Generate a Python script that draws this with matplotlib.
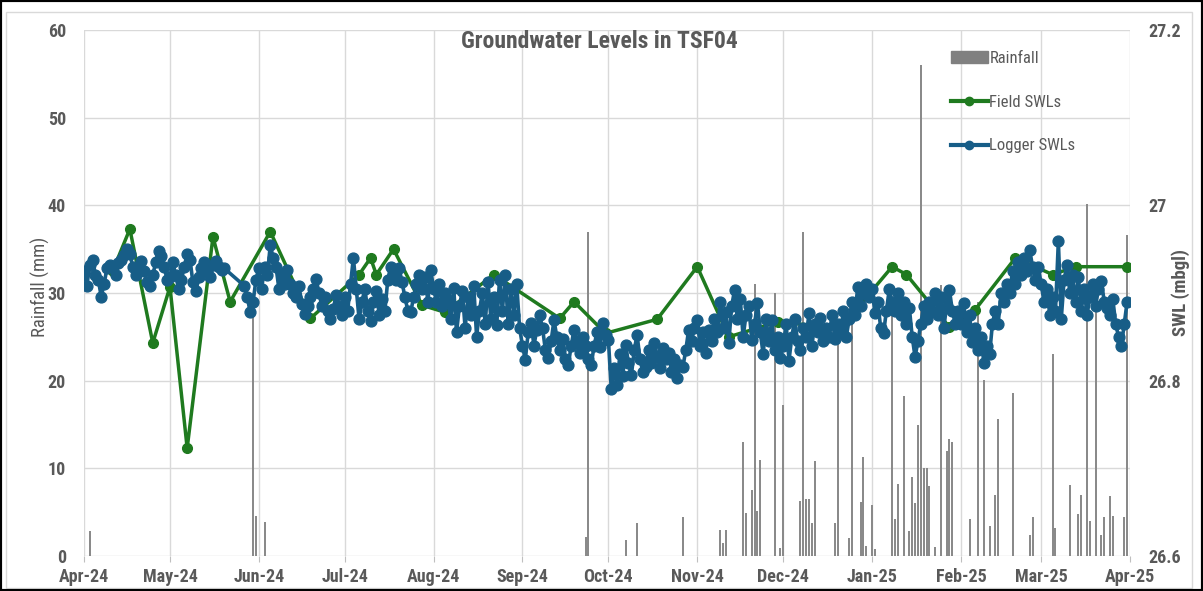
import pandas as pd
import matplotlib
matplotlib.use('Agg')
import matplotlib.pyplot as plt
import matplotlib.dates as mdates
from matplotlib import font_manager
from matplotlib.patches import Rectangle, Patch
from matplotlib.lines import Line2D

# narrow font if there is one, otherwise Liberation Sans
installed = {f.name for f in font_manager.fontManager.ttflist}
narrow = next((n for n in ['Liberation Sans Narrow', 'Roboto Condensed', 'DejaVu Sans Condensed',
                           'Open Sans Condensed'] if n in installed), 'Liberation Sans')
plt.rcParams['font.family'] = [narrow, 'DejaVu Sans']

start = pd.Timestamp('2024-04-01')
end = pd.Timestamp('2025-04-01')

# Rainfall (mm), days after 1 Apr 2024
rain_days = [2, 59, 60, 63, 175, 176, 189, 193, 209, 222, 223, 224, 230, 231, 233, 234, 235, 236,
             241, 243, 244, 250, 251, 252, 253, 254, 255, 262, 263, 267, 268, 271, 272, 273, 275, 276,
             282, 283, 284, 286, 288, 289, 290, 291, 292, 293, 294, 295, 297, 299, 301, 302, 303,
             309, 312, 314, 316, 318, 319, 324, 330, 331, 338, 339, 344, 347, 348, 350, 351, 353,
             355, 356, 358, 359, 363, 364]
rain_mm = [2.8, 30, 4.6, 3.9, 2.2, 37, 1.8, 3.8, 4.4, 3.0, 1.5, 3.0, 13.0, 4.9, 7.5, 31, 5.1, 11.0,
           30, 0.9, 17.2, 6.3, 37, 6.5, 6.5, 3.8, 10.8, 3.8, 25.6, 2.0, 29, 6.2, 11.3, 1.1, 5.8, 0.8,
           28, 4.2, 8.2, 18.2, 2.8, 9.0, 6.0, 14.9, 56, 10.0, 10.0, 8.0, 1.0, 30.9, 12.0, 13.4, 13.0,
           4.2, 29, 20.1, 3.4, 7.0, 15.6, 18.6, 2.4, 4.4, 23.0, 3.2, 8.1, 4.8, 7.0, 40.2, 4.0, 30,
           2.4, 4.4, 6.8, 4.6, 4.4, 36.6]

# Field SWLs (mbgl)
field_days = [10, 16, 24, 30, 36, 45, 51, 65, 79, 96, 100, 102, 108, 118, 126, 143, 166, 171, 182,
              200, 214, 225, 242, 264, 282, 287, 302, 311, 325, 338, 346, 364]
field_swl = [26.925, 26.973, 26.843, 26.907, 26.723, 26.964, 26.890, 26.970, 26.871, 26.921, 26.940,
             26.921, 26.950, 26.886, 26.878, 26.921, 26.871, 26.890, 26.854, 26.870, 26.930, 26.850,
             26.867, 26.860, 26.930, 26.921, 26.861, 26.881, 26.940, 26.921, 26.930, 26.930]

# Logger SWLs (mbgl), one per day from 1 Apr 2024 (None = no reading)
logger_swl = [
    # Apr
    26.925, 26.908, 26.932, 26.938, 26.920, 26.915, 26.896, 26.910, 26.928, 26.932,
    26.930, 26.920, 26.934, 26.938, 26.943, 26.950, 26.945, 26.930, 26.920, 26.928,
    26.936, 26.925, 26.912, 26.908, 26.920, 26.935, 26.948, 26.942, 26.930, 26.915,
    # May
    26.918, 26.935, 26.920, 26.905, 26.915, 26.930, 26.945, 26.938, 26.912, 26.902,
    26.918, 26.928, 26.935, 26.925, 26.918, 26.932, 26.936, 26.930, 26.926, 26.928,
    None, None, None, None, None, None, 26.908,
    26.895, 26.878, 26.890, 26.915, 26.928, 26.905, 26.930, 26.920, 26.955, 26.940, 26.930,
    26.905, 26.920, 26.910, 26.926, 26.910, 26.900, 26.895, 26.908, 26.888, 26.876,
    26.885, 26.895, 26.905, 26.916, 26.900, 26.885, 26.895, 26.880, 26.870, 26.882,
    26.898, 26.885, 26.875,
    # Jul
    26.895, 26.880, 26.910, 26.940, 26.905, 26.870, 26.890, 26.905, 26.880, 26.868,
    26.890, 26.902, 26.875, 26.893, 26.880, 26.915, 26.930, 26.925, 26.915, 26.928,
    26.912, 26.895, 26.880, 26.878, 26.895, 26.910, 26.920, 26.905, 26.918, 26.890, 26.926,
    # Aug
    26.905, 26.890, 26.910, 26.885, 26.900, 26.892, 26.870, 26.906, 26.855, 26.885,
    26.902, 26.860, 26.895, 26.875, 26.908, 26.850, 26.880, 26.900, 26.865, 26.912,
    26.870, 26.895, 26.863, 26.915, 26.880, 26.920, 26.865, 26.905, 26.875, 26.910, 26.860,
    # Sep
    26.840, 26.824, 26.855, 26.866, 26.840, 26.858, 26.875, 26.860, 26.835, 26.826,
    26.845, 26.869, 26.850, 26.835, 26.848, 26.825, 26.818, 26.840, 26.858, 26.845,
    26.832, 26.850, 26.840, 26.825, 26.818, 26.840, 26.855, 26.838, 26.866, 26.852,
    # Oct
    26.846, 26.790, 26.815, 26.795, 26.830, 26.805, 26.841, 26.820, 26.806, 26.835,
    26.852, 26.825, 26.810, 26.816, 26.835, 26.820, 26.843, 26.828, 26.815, 26.837,
    26.825, 26.832, 26.810, 26.825, 26.803, 26.818, 26.816, 26.835, 26.858, 26.845, 26.860,
    # Nov
    26.869, 26.840, 26.855, 26.832, 26.858, 26.845, 26.870, 26.855, 26.890, 26.860,
    26.878, 26.843, 26.885, 26.903, 26.870, 26.893, 26.850, 26.875, 26.885, 26.846,
    26.865, 26.889, 26.855, 26.830, 26.870, 26.845, 26.869, 26.835, 26.850, 26.826,
    # Dec
    26.840, 26.865, 26.823, 26.850, 26.870, 26.845, 26.835, 26.860, 26.850, 26.877,
    26.840, 26.865, 26.855, 26.872, 26.845, 26.860, 26.850, 26.875, 26.848, 26.865,
    26.855, 26.880, 26.850, 26.870, 26.890, 26.875, 26.907, 26.885, 26.900, 26.910, 26.895,
    # Jan
    26.905, 26.877, 26.890, 26.860, 26.854, 26.880, 26.904, 26.890, 26.880, 26.900,
    26.875, 26.890, 26.865, 26.883, 26.850, 26.827, 26.845, 26.865, 26.885, 26.870,
    26.890, 26.880, 26.900, 26.875, 26.895, 26.860, 26.885, 26.903, 26.880, 26.865, 26.880,
    # Feb
    26.865, 26.889, 26.855, 26.875, 26.844, 26.860, 26.835, 26.850, 26.820, 26.840,
    26.830, 26.865, 26.880, 26.865, 26.900, 26.890, 26.910, 26.900, 26.925, 26.910,
    26.935, 26.920, 26.940, 26.925, 26.949, 26.930, 26.915, 26.930,
    # Mar
    26.910, 26.890, 26.904, 26.875, 26.895, 26.880, 26.959, 26.870, 26.915, 26.932,
    26.900, 26.920, 26.890, 26.918, 26.880, 26.905, 26.875, 26.895, 26.910, 26.885,
    26.905, 26.914, 26.890, 26.883, 26.875, 26.893, 26.865, 26.850, 26.840, 26.865, 26.890,
]

rain_dates = [start + pd.Timedelta(days=d) for d in rain_days]
field_dates = [start + pd.Timedelta(days=d) for d in field_days]
logger = pd.Series(logger_swl, index=pd.date_range(start, periods=len(logger_swl)), dtype=float).dropna()

grey_txt = '#595959'
green = '#1f7a1f'
blue = '#175d87'

fig = plt.figure(figsize=(12.03, 5.91), dpi=100)
ax = fig.add_axes([84 / 1203, 35 / 591, 1046 / 1203, 526 / 591])

ax.bar(rain_dates, rain_mm, width=0.7, color='#8a8a8a', zorder=2)
ax.set_ylim(0, 60)
ax.set_yticks(range(0, 61, 10))
ax.set_xlim(start, end)
ax.xaxis.set_major_locator(mdates.MonthLocator())
ax.xaxis.set_major_formatter(mdates.DateFormatter('%b-%y'))
ax.grid(True, color='#d9d9d9', lw=1)
ax.set_axisbelow(True)
for s in ax.spines.values():
    s.set_visible(False)
ax.tick_params(axis='x', length=4, color='#bfbfbf', pad=5, labelsize=13, labelcolor=grey_txt)
ax.tick_params(axis='y', length=0, pad=13, labelsize=13, labelcolor=grey_txt)
for lab in ax.get_xticklabels() + ax.get_yticklabels():
    lab.set_fontweight('bold')

ax2 = ax.twinx()
ax2.plot(field_dates, field_swl, color=green, lw=2.5, marker='o', ms=7, zorder=3)
ax2.plot(logger.index, logger.values, color=blue, lw=2.6, marker='o', ms=7.8, zorder=4)
ax2.set_ylim(26.6, 27.2)
ax2.set_yticks([26.6, 26.8, 27.0, 27.2])
ax2.set_yticklabels(['26.6', '26.8', '27', '27.2'], fontweight='bold')
ax2.tick_params(axis='y', length=0, pad=13, labelsize=13, labelcolor=grey_txt)
for s in ax2.spines.values():
    s.set_visible(False)
ax2.set_xlim(start, end)

fig.text(40 / 1203, 1 - 287 / 591, 'Rainfall (mm)', rotation=90, ha='center', va='center',
         fontsize=13.5, color=grey_txt)
fig.text(1181 / 1203, 1 - 293 / 591, 'SWL (mbgl)', rotation=90, ha='center', va='center',
         fontsize=13.5, color=grey_txt, fontweight='bold')
fig.text(599 / 1203, 1 - 41 / 591, 'Groundwater Levels in TSF04', ha='center', va='center',
         fontsize=17, color=grey_txt, fontweight='bold')

handles = [Patch(color='#808080'),
           Line2D([], [], color=green, lw=3, marker='o', ms=6),
           Line2D([], [], color=blue, lw=3, marker='o', ms=6)]
fig.legend(handles, ['Rainfall', 'Field SWLs', 'Logger SWLs'], loc='upper left',
           bbox_to_anchor=(936 / 1203, 1 - 36 / 591), frameon=False, labelspacing=1.72,
           handlelength=2.2, handletextpad=0.1, prop={'size': 12}, labelcolor=grey_txt)

fig.patches.append(Rectangle((6 / 1203, 3 / 591), 1186 / 1203, 576 / 591, transform=fig.transFigure,
                             fill=False, edgecolor='#d9d9d9', lw=1))
fig.patches.append(Rectangle((0, 0), 1, 1, transform=fig.transFigure, fill=False,
                             edgecolor='black', lw=3))

fig.savefig('out.png', dpi=100)
